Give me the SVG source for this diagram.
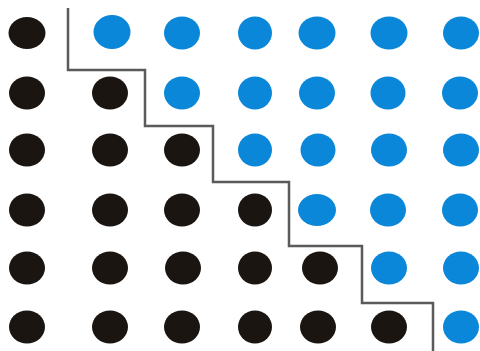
<svg xmlns="http://www.w3.org/2000/svg" width="480" height="351" viewBox="0 0 480 351">
<style>
.k{fill:#1b1512}
.b{fill:#0a87d8}
.stair{fill:none;stroke:#5a5a5a;stroke-width:2.5}
</style>
<rect width="480" height="351" fill="#fff"/>
<g id="staircase">
<polyline class="stair" points="68,8 68,70 145,70 145,126 213,126 213,182 289,182 289,246 362,246 362,303 433,303 433,351"/>
</g>
<g id="black-dots">
<ellipse class="k" cx="27" cy="33" rx="18.5" ry="16"/>
<ellipse class="k" cx="27" cy="93" rx="18" ry="16.5"/>
<ellipse class="k" cx="110" cy="93" rx="18" ry="16.5"/>
<ellipse class="k" cx="27" cy="150" rx="18" ry="16.5"/>
<ellipse class="k" cx="110" cy="150" rx="18" ry="16.5"/>
<ellipse class="k" cx="182" cy="150" rx="18" ry="16.5"/>
<ellipse class="k" cx="27" cy="210" rx="18" ry="16.5"/>
<ellipse class="k" cx="110" cy="210" rx="18" ry="16.5"/>
<ellipse class="k" cx="182" cy="210" rx="18" ry="16.5"/>
<ellipse class="k" cx="255" cy="210" rx="17" ry="16.5"/>
<ellipse class="k" cx="27" cy="268" rx="18" ry="16.5"/>
<ellipse class="k" cx="110" cy="268" rx="18" ry="16.5"/>
<ellipse class="k" cx="183" cy="268" rx="18" ry="16.5"/>
<ellipse class="k" cx="255" cy="268" rx="17" ry="16.5"/>
<ellipse class="k" cx="320" cy="268" rx="18" ry="16.5"/>
<ellipse class="k" cx="27" cy="327" rx="18" ry="16.5"/>
<ellipse class="k" cx="110" cy="327" rx="18" ry="16.5"/>
<ellipse class="k" cx="182" cy="327" rx="18" ry="16.5"/>
<ellipse class="k" cx="255" cy="327" rx="17" ry="16.5"/>
<ellipse class="k" cx="318" cy="327" rx="18" ry="16.5"/>
<ellipse class="k" cx="389" cy="327" rx="18" ry="16.5"/>
</g>
<g id="blue-dots">
<ellipse class="b" cx="112" cy="32" rx="18.5" ry="17"/>
<ellipse class="b" cx="182" cy="33" rx="18" ry="16.5"/>
<ellipse class="b" cx="255" cy="33" rx="17" ry="16.5"/>
<ellipse class="b" cx="317" cy="33" rx="18.5" ry="16.5"/>
<ellipse class="b" cx="389" cy="33" rx="18.5" ry="16.5"/>
<ellipse class="b" cx="461" cy="33" rx="18" ry="16.5"/>
<ellipse class="b" cx="182" cy="93" rx="18" ry="16.5"/>
<ellipse class="b" cx="255" cy="93" rx="17" ry="16.5"/>
<ellipse class="b" cx="317" cy="93" rx="18" ry="16.5"/>
<ellipse class="b" cx="388" cy="93" rx="17.5" ry="16.5"/>
<ellipse class="b" cx="460" cy="93" rx="18" ry="16.5"/>
<ellipse class="b" cx="255" cy="150" rx="17" ry="16.5"/>
<ellipse class="b" cx="318" cy="150" rx="17.5" ry="16.5"/>
<ellipse class="b" cx="389" cy="150" rx="18" ry="16.5"/>
<ellipse class="b" cx="461" cy="150" rx="18" ry="16.5"/>
<ellipse class="b" cx="317" cy="210" rx="19" ry="16"/>
<ellipse class="b" cx="388" cy="210" rx="18" ry="16.5"/>
<ellipse class="b" cx="460" cy="210" rx="18" ry="16.5"/>
<ellipse class="b" cx="389" cy="268" rx="18" ry="16.5"/>
<ellipse class="b" cx="461" cy="268" rx="18" ry="16.5"/>
<ellipse class="b" cx="461" cy="327" rx="18" ry="16.5"/>
</g>
</svg>
